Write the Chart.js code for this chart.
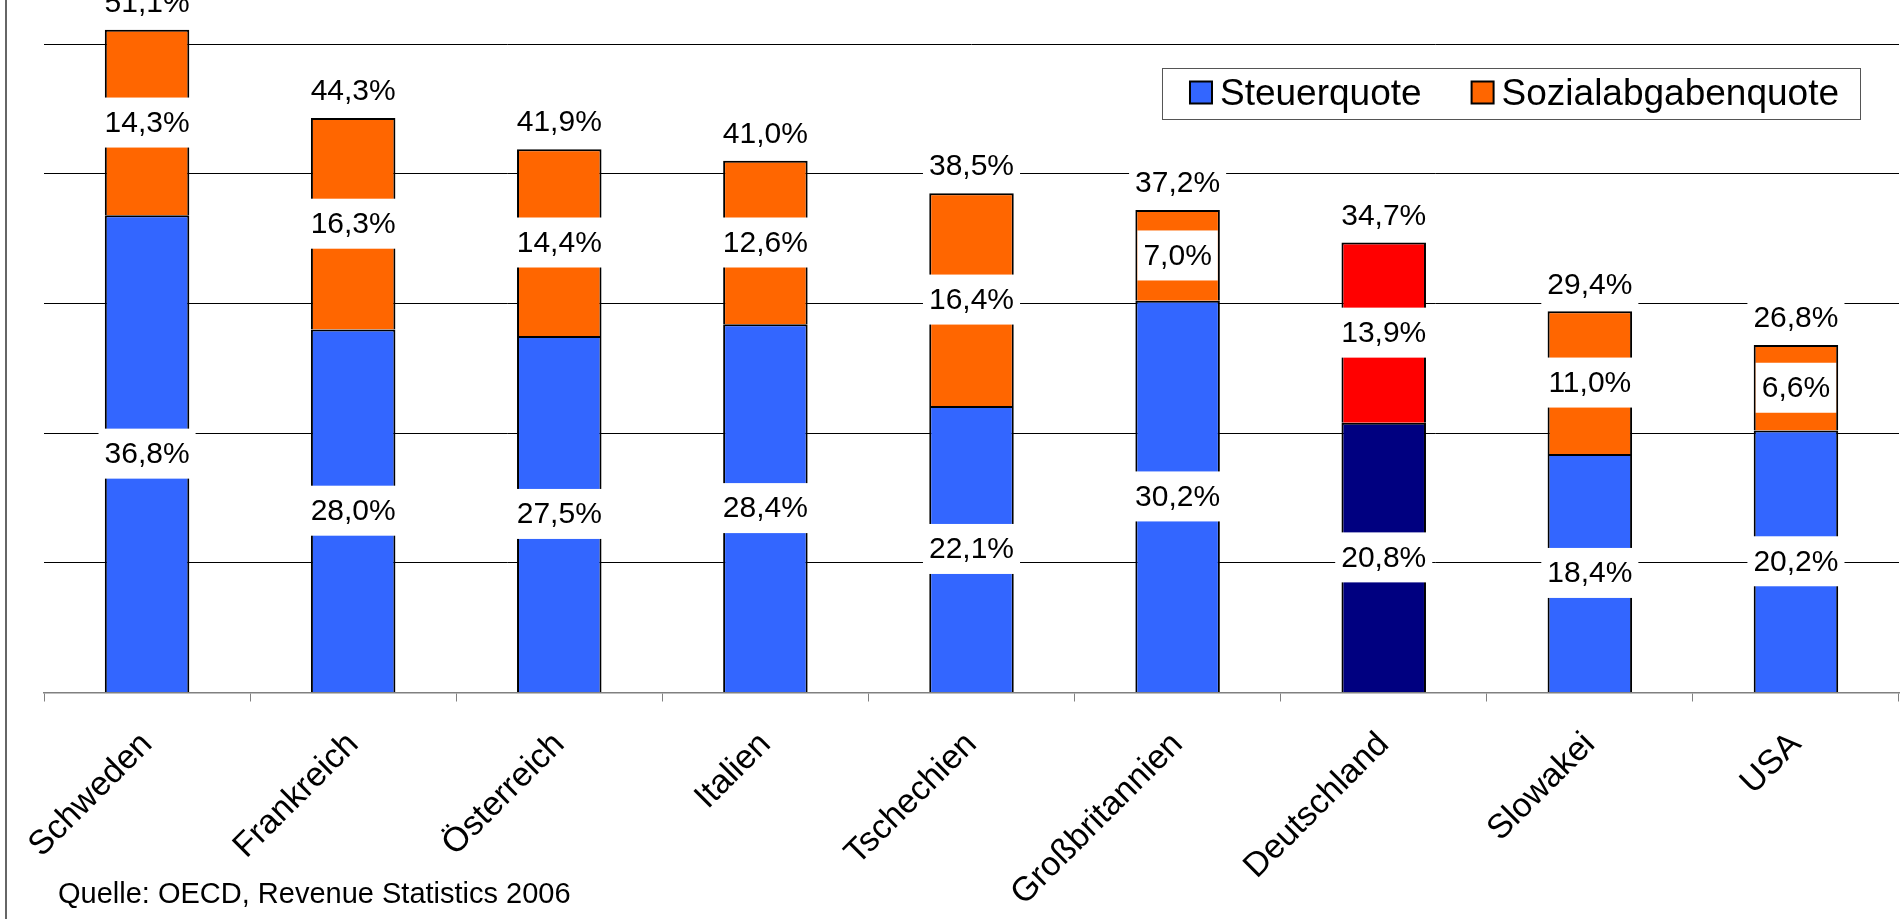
<!DOCTYPE html>
<html>
<head>
<meta charset="utf-8">
<title>Steuer- und Sozialabgabenquote</title>
<script src="https://cdn.jsdelivr.net/npm/chart.js@4.4.0/dist/chart.umd.min.js"></script>
<style>
  html, body { margin: 0; padding: 0; background: #fff; overflow: hidden; }
  canvas { display: block; }
</style>
</head>
<body>
<canvas id="quoteChart" width="1903" height="919"></canvas>
<script>
const countries = ['Schweden', 'Frankreich', 'Österreich', 'Italien', 'Tschechien', 'Großbritannien', 'Deutschland', 'Slowakei', 'USA'];
const steuerquote = [36.8, 28.0, 27.5, 28.4, 22.1, 30.2, 20.8, 18.4, 20.2];
const sozialquote = [14.3, 16.3, 14.4, 12.6, 16.4, 7.0, 13.9, 11.0, 6.6];
const gesamtquote = [51.1, 44.3, 41.9, 41.0, 38.5, 37.2, 34.7, 29.4, 26.8];
const yTicks = [0, 10, 20, 30, 40, 50];
const seriesNames = ['Steuerquote', 'Sozialabgabenquote'];
const highlighted = 'Deutschland';
const sourceNote = 'Quelle: OECD, Revenue Statistics 2006';

const FONT = '"Liberation Sans", Arial, Helvetica, sans-serif';
const colors = {
  steuer: '#3366FF',
  sozial: '#FF6600',
  steuerDe: '#000080',
  sozialDe: '#FF0000',
};

function fmt(v) {
  return v.toFixed(1).replace('.', ',') + '%';
}

function boxLabel(ctx, text, x, y) {
  const w = ctx.measureText(text).width + 12;
  const h = 50;
  ctx.fillStyle = '#fff';
  ctx.fillRect(x - w / 2, y - h / 2, w, h);
  ctx.fillStyle = '#000';
  ctx.fillText(text, x, y + 1);
}

// value labels with white boxes, inside segments and above the stack
const labelsPlugin = {
  id: 'quoteLabels',
  afterDatasetsDraw(chart) {
    const ctx = chart.ctx;
    const yScale = chart.scales.y;
    ctx.save();
    ctx.font = '30px ' + FONT;
    ctx.textAlign = 'center';
    ctx.textBaseline = 'middle';
    chart.data.datasets.forEach((ds, i) => {
      chart.getDatasetMeta(i).data.forEach((bar, j) => {
        boxLabel(ctx, fmt(ds.data[j]), bar.x, (bar.y + bar.base) / 2);
      });
    });
    chart.getDatasetMeta(1).data.forEach((bar, j) => {
      boxLabel(ctx, fmt(gesamtquote[j]), bar.x, yScale.getPixelForValue(gesamtquote[j]) - 27);
    });
    ctx.restore();
  }
};

// legend box, left frame line and source note
const decorPlugin = {
  id: 'decor',
  afterDraw(chart) {
    const ctx = chart.ctx;
    const area = chart.chartArea;
    ctx.save();

    ctx.strokeStyle = '#333';
    ctx.lineWidth = 1.5;
    ctx.beginPath();
    ctx.moveTo(6, 0);
    ctx.lineTo(6, chart.height);
    ctx.stroke();

    ctx.font = '37px ' + FONT;
    const sw = 22, gap = 8, itemGap = 50, padL = 28, padR = 21;
    const items = chart.data.datasets.map(ds => ({
      text: ds.label,
      color: ds.legendColor,
      w: ctx.measureText(ds.label).width
    }));
    let total = padL + padR + itemGap * (items.length - 1);
    items.forEach(it => { total += sw + gap + it.w; });
    const boxH = 51;
    const boxRight = area.right - 39;
    const boxLeft = boxRight - total;
    const boxTop = 68;
    ctx.fillStyle = '#fff';
    ctx.fillRect(boxLeft, boxTop, total, boxH);
    ctx.strokeStyle = '#555';
    ctx.lineWidth = 1;
    ctx.strokeRect(boxLeft + 0.5, boxTop + 0.5, total, boxH);

    let x = boxLeft + padL;
    const cy = boxTop + boxH / 2;
    ctx.textBaseline = 'middle';
    ctx.textAlign = 'left';
    items.forEach(it => {
      ctx.fillStyle = it.color;
      ctx.fillRect(x, cy - sw / 2 - 1, sw, sw);
      ctx.strokeStyle = '#000';
      ctx.lineWidth = 2;
      ctx.strokeRect(x, cy - sw / 2 - 1, sw, sw);
      x += sw + gap;
      ctx.fillStyle = '#000';
      ctx.fillText(it.text, x, cy + 1);
      x += it.w + itemGap;
    });

    ctx.font = '29px ' + FONT;
    ctx.textBaseline = 'alphabetic';
    ctx.fillText(sourceNote, 58, 903);
    ctx.restore();
  }
};

new Chart(document.getElementById('quoteChart'), {
  type: 'bar',
  data: {
    labels: countries,
    datasets: [
      {
        label: seriesNames[0],
        data: steuerquote,
        backgroundColor: countries.map(c => c === highlighted ? colors.steuerDe : colors.steuer),
        legendColor: colors.steuer,
        borderColor: '#000',
        borderWidth: 2,
        barPercentage: 0.41,
        categoryPercentage: 1.0,
      },
      {
        label: seriesNames[1],
        data: sozialquote,
        backgroundColor: countries.map(c => c === highlighted ? colors.sozialDe : colors.sozial),
        legendColor: colors.sozial,
        borderColor: '#000',
        borderWidth: 2,
        barPercentage: 0.41,
        categoryPercentage: 1.0,
      },
    ]
  },
  options: {
    responsive: false,
    animation: false,
    layout: { padding: { top: 0, right: 4, bottom: 0, left: 0 } },
    plugins: {
      legend: { display: false },
      tooltip: { enabled: false },
    },
    scales: {
      x: {
        stacked: true,
        grid: {
          offset: true,
          drawOnChartArea: false,
          drawTicks: true,
          tickLength: 9,
          color: '#808080',
        },
        border: { display: true, color: '#808080', width: 1.5 },
        ticks: {
          color: '#000',
          font: { family: FONT, size: 34 },
          minRotation: 45,
          maxRotation: 45,
          padding: 23,
        },
        afterFit(scale) {
          scale.height = 226.5;
        }
      },
      y: {
        stacked: true,
        min: 0,
        max: 53.4,
        afterBuildTicks(scale) {
          scale.ticks = yTicks.map(v => ({ value: v }));
        },
        grid: {
          drawTicks: false,
          color: (c) => (c.tick && c.tick.value > 0 ? '#000' : 'rgba(0,0,0,0)'),
          lineWidth: 1,
        },
        border: { display: false },
        ticks: { display: false },
        afterFit(scale) {
          scale.width = 44;
        }
      }
    }
  },
  plugins: [labelsPlugin, decorPlugin]
});
</script>
</body>
</html>
